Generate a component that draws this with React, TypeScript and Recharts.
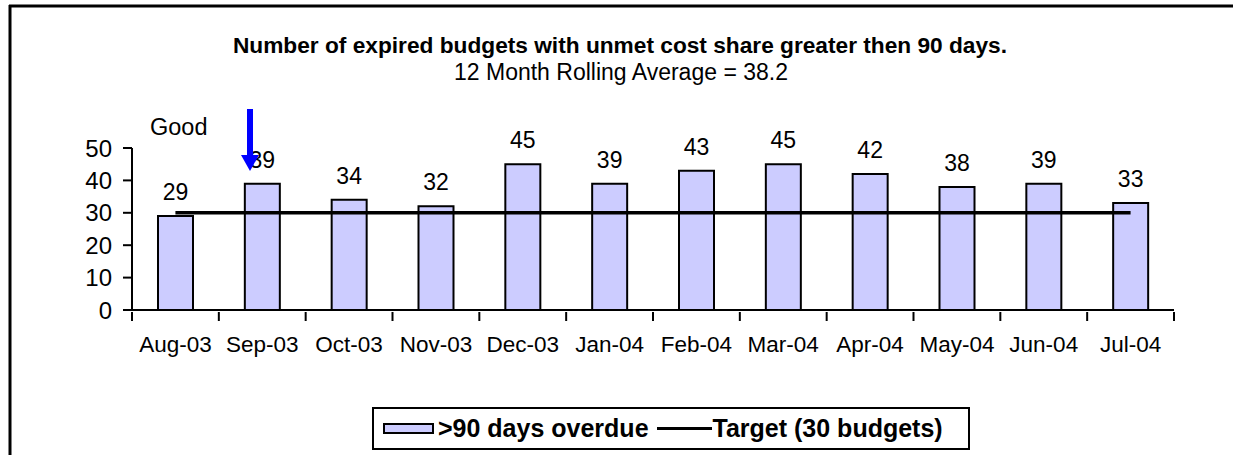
import React from "react";
import {
  ComposedChart,
  Bar,
  Line,
  XAxis,
  YAxis,
  LabelList,
  Legend,
} from "recharts";

const months = [
  "Aug-03", "Sep-03", "Oct-03", "Nov-03", "Dec-03", "Jan-04",
  "Feb-04", "Mar-04", "Apr-04", "May-04", "Jun-04", "Jul-04",
];
const overdue = [29, 39, 34, 32, 45, 39, 43, 45, 42, 38, 39, 33];
const target = [30, 30, 30, 30, 30, 30, 30, 30, 30, 30, 30, 30];
const yTicks = [0, 10, 20, 30, 40, 50];

const title = "Number of expired budgets with unmet cost share greater then 90 days.";
const subtitle = "12 Month Rolling Average = 38.2";
const seriesName = ">90 days overdue";
const targetName = "Target (30 budgets)";

const data = months.map((m, i) => ({ month: m, overdue: overdue[i], target: target[i] }));

const FONT = '"Liberation Sans", Arial, sans-serif';
const BAR_FILL = "#CCCCFF";

function MonthTick(props: any) {
  const { x, y, payload, index, visibleTicksCount } = props;
  const half = payload && typeof payload.offset === "number" ? payload.offset : 0;
  const count = visibleTicksCount ?? months.length;
  return (
    <g>
      <line x1={x - half} y1={y} x2={x - half} y2={y + 9} stroke="#000" strokeWidth={2} />
      {index === count - 1 ? (
        <line x1={x + half} y1={y} x2={x + half} y2={y + 9} stroke="#000" strokeWidth={2} />
      ) : null}
      <text
        x={x}
        y={y + 24.5}
        dy="0.71em"
        textAnchor="middle"
        fontFamily={FONT}
        fontSize={22.5}
        fill="#000"
      >
        {payload.value}
      </text>
    </g>
  );
}

function LegendBox() {
  return (
    <div
      style={{
        boxSizing: "border-box",
        width: 598,
        height: 43,
        border: "2px solid #000",
        display: "flex",
        alignItems: "center",
        paddingLeft: 9,
        fontFamily: FONT,
        fontWeight: "bold",
        fontSize: 25,
        color: "#000",
        background: "#fff",
        whiteSpace: "nowrap",
      }}
    >
      <span
        style={{
          display: "inline-block",
          boxSizing: "border-box",
          width: 51,
          height: 11,
          background: BAR_FILL,
          border: "2px solid #000",
        }}
      />
      <span style={{ marginLeft: 4 }}>{seriesName}</span>
      <span
        style={{
          display: "inline-block",
          width: 55,
          height: 3,
          background: "#000",
          marginLeft: 8,
        }}
      />
      <span style={{ marginLeft: 1 }}>{targetName}</span>
    </div>
  );
}

export default function App() {
  return (
    <div style={{ position: "absolute", left: 0, top: 0, width: 1233, height: 455, background: "#fff" }}>
      <ComposedChart
        width={1233}
        height={455}
        data={data}
        margin={{ top: 148, right: 59, bottom: 105, left: 72 }}
      >
        <XAxis
          dataKey="month"
          height={40}
          tickSize={0}
          tickLine={false}
          axisLine={{ stroke: "#000", strokeWidth: 2 }}
          tick={<MonthTick />}
          interval={0}
        />
        <YAxis
          width={60}
          domain={[0, 50]}
          ticks={yTicks}
          interval={0}
          tickSize={9}
          tickMargin={11}
          axisLine={{ stroke: "#000", strokeWidth: 2 }}
          tickLine={{ stroke: "#000", strokeWidth: 2 }}
          tick={{ fill: "#000", fontSize: 24, fontFamily: FONT }}
        />
        <Legend
          layout="horizontal"
          verticalAlign="middle"
          align="center"
          wrapperStyle={{ left: 372, top: 407, width: 598, height: 43 }}
          content={() => <LegendBox />}
        />
        <Bar
          dataKey="overdue"
          name={seriesName}
          fill={BAR_FILL}
          stroke="#000"
          strokeWidth={2}
          barSize={35}
          isAnimationActive={false}
        >
          <LabelList
            dataKey="overdue"
            position="top"
            offset={16}
            style={{ fill: "#000", fontSize: 23, fontFamily: FONT }}
          />
        </Bar>
        <Line
          dataKey="target"
          name={targetName}
          stroke="#000"
          strokeWidth={3.5}
          dot={false}
          activeDot={false}
          isAnimationActive={false}
        />
      </ComposedChart>
      <svg
        width={1233}
        height={455}
        style={{ position: "absolute", left: 0, top: 0, pointerEvents: "none" }}
      >
        <line x1={9} y1={6} x2={1233} y2={6} stroke="#000" strokeWidth={3} />
        <line x1={10} y1={5} x2={10} y2={455} stroke="#000" strokeWidth={3} />
        <text x={620} y={53} textAnchor="middle" fontFamily={FONT} fontWeight="bold" fontSize={22.7} fill="#000">
          {title}
        </text>
        <text x={621} y={80} textAnchor="middle" fontFamily={FONT} fontSize={23} fill="#000">
          {subtitle}
        </text>
        <text x={150} y={134.5} fontFamily={FONT} fontSize={23.5} fill="#000">
          Good
        </text>
        <rect x={247} y={109} width={6} height={47} fill="#0000FF" />
        <polygon points="241,155 259,155 250,171" fill="#0000FF" />
      </svg>
    </div>
  );
}
